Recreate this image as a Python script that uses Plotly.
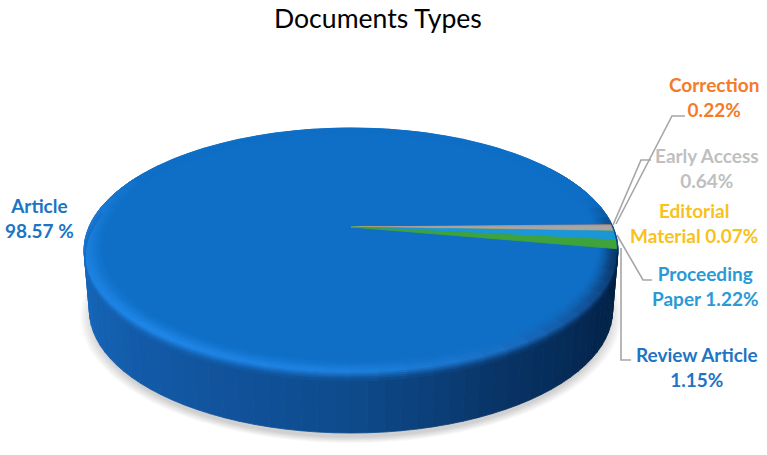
import numpy as np
import plotly.graph_objects as go

TITLE = "Documents Types"
categories = ["Correction", "Early Access", "Editorial Material", "Proceeding Paper", "Review Article", "Article"]
values = [0.22, 0.64, 0.07, 1.22, 1.15, 98.57]
slice_colors = ["#c98a6c", "#a9a5a3", "#ffc000", "#1b96d8", "#3fa33c", "#0f6fc6"]
label_texts = ["Correction<br>0.22%", "Early Access<br>0.64%", "Editorial<br>Material 0.07%",
               "Proceeding<br>Paper 1.22%", "Review Article<br>1.15%", "Article<br>98.57 %"]
label_colors = ["#f47b29", "#bfbfbf", "#f8c11c", "#2a9ad6", "#1f74c4", "#1b75c5"]
label_pos = [(714, 97), (707, 168), (694, 223), (705, 286), (697, 367), (39, 218)]
leaders = [[(616, 224), (672, 116), (685, 116)],
           [(613, 225), (641, 160), (651, 160)],
           [(617, 235), (643, 280), (652, 280)],
           [(621, 248), (621, 360), (631, 360)]]

# perspective of the pie disc
CX, CY, D, A, C = 351, 227, 262, 118, 0.192
DROP, BOTTOM_SCALE = 60, 0.98
START_DEG = 1.4


def project(phi_deg, r=1.0, z=0.0):
    p = np.radians(phi_deg)
    u, v = r * np.cos(p), r * np.sin(p)
    w = 1 + C * v
    t = z / DROP
    scale = 1 - (1 - BOTTOM_SCALE) * t
    return CX + scale * D * u / w, CY - A * v / w + z


def hex2rgb(h):
    return np.array([int(h[i:i + 2], 16) for i in (1, 3, 5)], float)


def mix(a, b, t):
    c = a * (1 - t) + b * t
    return "rgb(%d,%d,%d)" % tuple(np.round(c))


TOP = hex2rgb("#0f6fc6")
side_deg = [150, 170, 190, 230, 270, 300, 330, 360, 400]
side_hex = ["#1a6fc8", "#1a6fc8", "#1668bc", "#1259a6", "#0e4a8c", "#083364", "#03244c", "#02203f", "#02203f"]
hi_deg = [0, 15, 150, 175, 230, 270, 300, 325, 345, 360]
hi_hex = ["#0b4c8f", "#0f6fc6", "#0f6fc6", "#1a7dd8", "#1f86e8", "#1d80de", "#1a6fc5", "#124f93", "#0a3566", "#0b4c8f"]
side_rgb = np.array([hex2rgb(h) for h in side_hex])
hi_rgb = np.array([hex2rgb(h) for h in hi_hex])


def side_col(phi):
    q = phi if phi >= 150 else phi + 360
    return np.array([np.interp(q, side_deg, side_rgb[:, i]) for i in range(3)])


def hi_col(phi):
    q = phi % 360
    return np.array([np.interp(q, hi_deg, hi_rgb[:, i]) for i in range(3)])


fig = go.Figure()


def poly(x, y, color):
    fig.add_trace(go.Scatter(x=x, y=y, mode="lines", fill="toself", fillcolor=color,
                             line=dict(color=color, width=0.8), hoverinfo="skip", showlegend=False))


# soft shadow below the disc
ring = np.linspace(0, 360, 181)
for k in range(12):
    t = k / 11
    px, py = project(ring, 1.0, DROP)
    sc = 1.035 - 0.05 * t
    x = 352 + (px - 352) * sc
    y = 310 + (py - 310) * sc + 6
    fig.add_trace(go.Scatter(x=x, y=y, mode="lines", fill="toself", fillcolor="rgba(70,70,70,0.022)",
                             line=dict(width=0), hoverinfo="skip", showlegend=False))

# side wall
SEG = np.arange(150, 392, 3.0)
for a0 in SEG:
    a1 = a0 + 3.0
    c = side_col(a0 + 1.5)
    x0, y0 = project(a0, 1, 0)
    x1, y1 = project(a1, 1, 0)
    x2, y2 = project(a1, 1, DROP)
    x3, y3 = project(a0, 1, DROP)
    poly([x0, x1, x2, x3, x0], [y0, y1, y2, y3, y0], mix(c, c, 0))

# top face
tx, ty = project(ring)
poly(tx, ty, "#0f6fc6")

# bevel: (r0, z0, r1, z1, kind, amount)
bands = [(0.93, 0, 0.94, 0, "top", 0.08), (0.94, 0, 0.95, 0, "top", 0.2), (0.95, 0, 0.96, 0, "top", 0.35),
         (0.96, 0, 0.97, 0, "top", 0.55), (0.97, 0, 0.98, 0, "top", 0.75), (0.98, 0, 0.99, 0, "top", 0.92),
         (0.99, 0, 1.0, 0, "top", 1.0), (1.0, 0, 1.0, 2, "side", 0.8), (1.0, 2, 1.0, 4, "side", 0.55),
         (1.0, 4, 1.0, 6, "side", 0.3), (1.0, 6, 1.0, 8, "side", 0.12)]
BEV = np.arange(0, 360, 5.0)
for r0, z0, r1, z1, kind, amt in bands:
    for a0 in BEV:
        mid = a0 + 2.5
        if kind == "side" and (mid < 170 or mid > 350):
            continue
        base = TOP if kind == "top" else side_col(mid)
        x0, y0 = project(a0, r0, z0)
        x1, y1 = project(a0 + 5, r0, z0)
        x2, y2 = project(a0 + 5, r1, z1)
        x3, y3 = project(a0, r1, z1)
        poly([x0, x1, x2, x3, x0], [y0, y1, y2, y3, y0], mix(base, hi_col(mid), amt))

# slices, computed from the values
total = sum(values)
angle = START_DEG
for val, col, name in zip(values[:-1], slice_colors[:-1], categories[:-1]):
    sweep = val / total * 360
    arc = np.linspace(angle, angle - sweep, 6)
    ax, ay = project(arc, 0.995)
    poly(np.r_[CX, ax, CX], np.r_[CY, ay, CY], col)
    angle -= sweep

shapes = []
for pts in leaders:
    path = "M " + " L ".join(f"{x},{y}" for x, y in pts)
    shapes.append(dict(type="path", path=path, xref="x", yref="y", line=dict(color="#a6a6a6", width=1.6)))

anns = [dict(x=378, y=18, text=TITLE, showarrow=False, xref="x", yref="y",
             font=dict(family="Lato", size=26.6, color="#000000"))]
for txt, col, (lx, ly) in zip(label_texts, label_colors, label_pos):
    anns.append(dict(x=lx, y=ly, text=f"<b>{txt}</b>", showarrow=False, xref="x", yref="y", align="center",
                     font=dict(family="Lato", size=19, color=col)))

fig.update_layout(
    width=767, height=455, margin=dict(l=0, r=0, t=0, b=0), paper_bgcolor="white", plot_bgcolor="white",
    xaxis=dict(range=[0, 767], visible=False, fixedrange=True),
    yaxis=dict(range=[455, 0], visible=False, fixedrange=True),
    shapes=shapes, annotations=anns, showlegend=False,
)
fig.write_html("out.html", config=dict(displayModeBar=False), default_width="767px", default_height="455px",
               post_script="document.body.style.margin='0';document.documentElement.style.overflow='hidden';")
